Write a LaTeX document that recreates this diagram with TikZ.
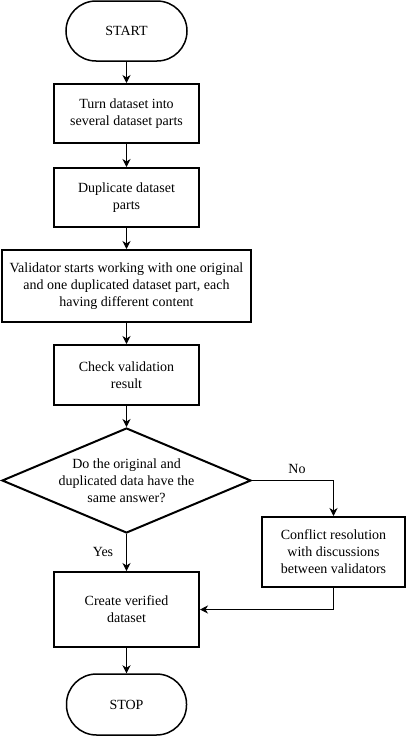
\documentclass[tikz,border=0pt]{standalone}
\usepackage{fontspec}
\setmainfont{Liberation Serif}
\usetikzlibrary{shapes.geometric,arrows.meta}
\begin{document}
\begin{tikzpicture}[x=1pt,y=-1pt,
  every node/.style={font=\fontsize{14}{17}\selectfont, align=center, inner sep=0pt},
  term/.style={draw, line width=1.5pt, rounded corners=30pt},
  proc/.style={draw, line width=2pt},
  cond/.style={draw, diamond, line width=2pt},
  conn/.style={line width=1pt, -{Stealth[length=8pt,width=8pt,inset=2.5pt]}},
  lbl/.style={font=\fontsize{14}{17}\selectfont}]
\useasboundingbox (0,0) rectangle (406,736);
\node[term, minimum width=121pt, minimum height=60pt] (start) at (126.5,31) {START};
\node[proc, minimum width=145pt, minimum height=59pt] (b1) at (126.5,113.5) {Turn dataset into\\several dataset parts};
\node[proc, minimum width=145pt, minimum height=59pt] (b2) at (126.5,197.5) {Duplicate dataset\\parts};
\node[proc, minimum width=249pt, minimum height=72pt] (b3) at (126.5,286) {Validator starts working with one original\\and one duplicated dataset part, each\\having different content};
\node[proc, minimum width=145pt, minimum height=60pt] (b4) at (126.5,375) {Check validation\\result};
\node[cond, minimum width=249pt, minimum height=105pt] (dia) at (126.5,480.5) {};
\node (diatext) at (dia.center) {Do the original and\\duplicated data have the\\same answer?};
\node[proc, minimum width=143pt, minimum height=70pt] (b5) at (333.5,552) {Conflict resolution\\with discussions\\between validators};
\node[proc, minimum width=145pt, minimum height=75pt] (b6) at (126.5,609.5) {Create verified\\dataset};
\node[term, minimum width=120pt, minimum height=61pt] (stop) at (126.5,704.5) {STOP};
\node[lbl] (no) at (297,469) {No};
\node[lbl] (yes) at (103,552) {Yes};
\draw[conn] (start) -- (b1);
\draw[conn] (b1) -- (b2);
\draw[conn] (b2) -- (b3);
\draw[conn] (b3) -- (b4);
\draw[conn] (b4) -- (dia);
\draw[conn] (dia.south) -- (b6);
\draw[conn] (dia.east) -| (b5.north);
\draw[conn] (b5.south) |- (b6.east);
\draw[conn] (b6) -- (stop);
\end{tikzpicture}
\end{document}
